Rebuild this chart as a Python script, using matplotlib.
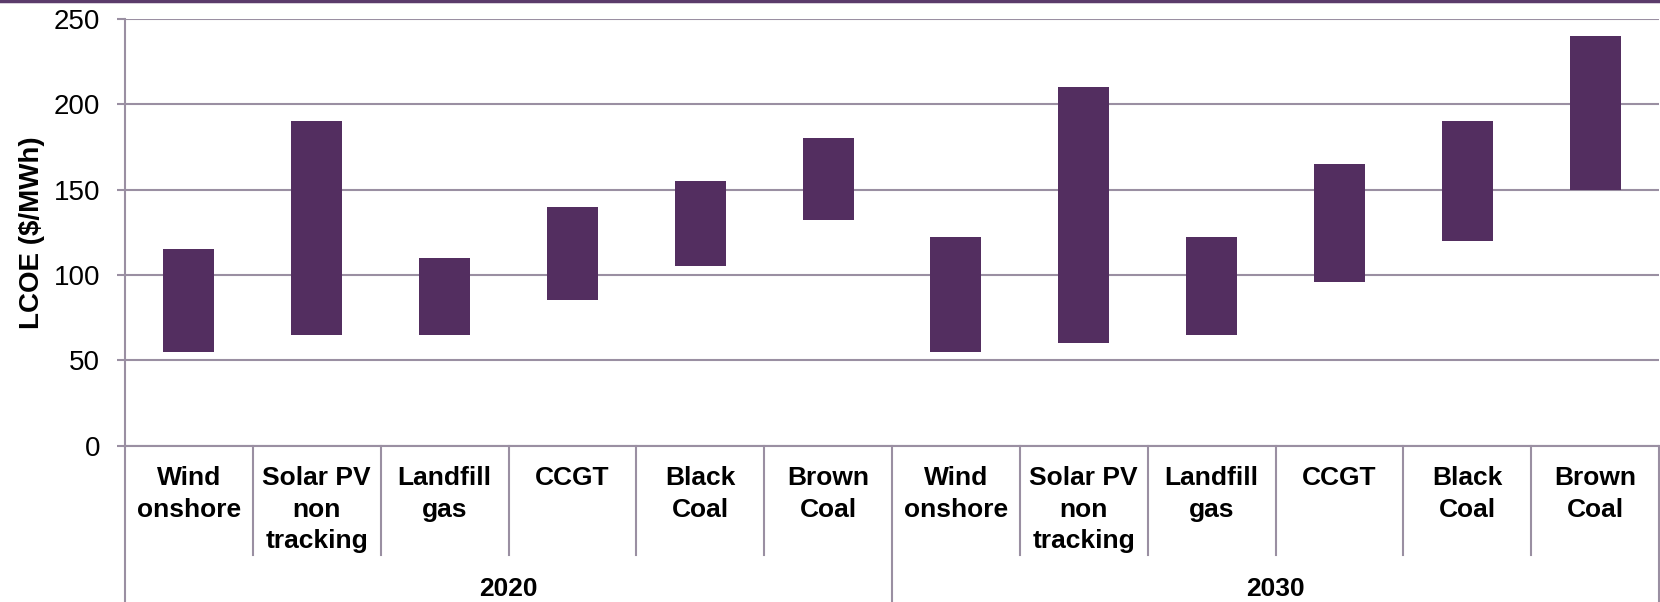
import matplotlib
matplotlib.use('Agg')
import matplotlib.pyplot as plt
import matplotlib.transforms as mtransforms
import numpy as np

plt.rcParams['font.family'] = ['Liberation Sans', 'DejaVu Sans']

# data (LCOE range, $/MWh)
technologies = ['Wind\nonshore', 'Solar PV\nnon\ntracking', 'Landfill\ngas',
                'CCGT', 'Black\nCoal', 'Brown\nCoal']
years = ['2020', '2030']
low_2020 = [55, 65, 65, 85, 105, 132]
high_2020 = [115, 190, 110, 140, 155, 180]
low_2030 = [55, 60, 65, 96, 120, 150]
high_2030 = [122, 210, 122, 165, 190, 240]

bar_color = '#532E60'
grid_color = '#9A8FA2'

low = np.array(low_2020 + low_2030)
high = np.array(high_2020 + high_2030)
labels = technologies * len(years)
x = np.arange(len(labels))

fig = plt.figure(figsize=(16.6, 6.02), dpi=100)
ax = fig.add_axes([125 / 1660, 1 - 445.5 / 602, 1534 / 1660, 426.5 / 602])

ax.bar(x, high - low, bottom=low, width=0.4, color=bar_color, zorder=3)

ax.set_xlim(-0.5, len(labels) - 0.5)
ax.set_ylim(0, 250)
ax.set_yticks(np.arange(0, 251, 50))
ax.yaxis.grid(True, color=grid_color, linewidth=1.5, zorder=0)
ax.tick_params(axis='y', length=6, width=1.5, color=grid_color, pad=12, labelsize=20)
ax.set_xticks([])
for side in ['top', 'right']:
    ax.spines[side].set_visible(False)
ax.spines['left'].set_color(grid_color)
ax.spines['left'].set_linewidth(1.5)
ax.spines['bottom'].set_color(grid_color)
ax.spines['bottom'].set_linewidth(1.5)
ax.set_ylabel('LCOE ($/MWh)', fontsize=20, fontweight='bold', labelpad=6)

# category axis: labels and dividers below the plot
trans = mtransforms.blended_transform_factory(ax.transData, ax.transAxes)
for i, lab in enumerate(labels):
    ax.text(i, -0.048, lab, transform=trans, ha='center', va='top',
            fontsize=19, fontweight='bold', linespacing=1.4)

n = len(technologies)
for i in range(len(labels) + 1):
    edge = i - 0.5
    bottom = -0.37 if i % n == 0 else -0.257
    ax.plot([edge, edge], [0, bottom], transform=trans, color=grid_color,
            linewidth=1.5, clip_on=False)

for j, yr in enumerate(years):
    ax.text(j * n + (n - 1) / 2, -0.337, yr, transform=trans, ha='center',
            va='center', fontsize=19, fontweight='bold')

# purple rule across the top
fig.add_artist(plt.Line2D([0, 1], [0.998, 0.998], transform=fig.transFigure,
                          color='#5B3B6B', linewidth=2.5))

fig.savefig('out.png', dpi=100)
